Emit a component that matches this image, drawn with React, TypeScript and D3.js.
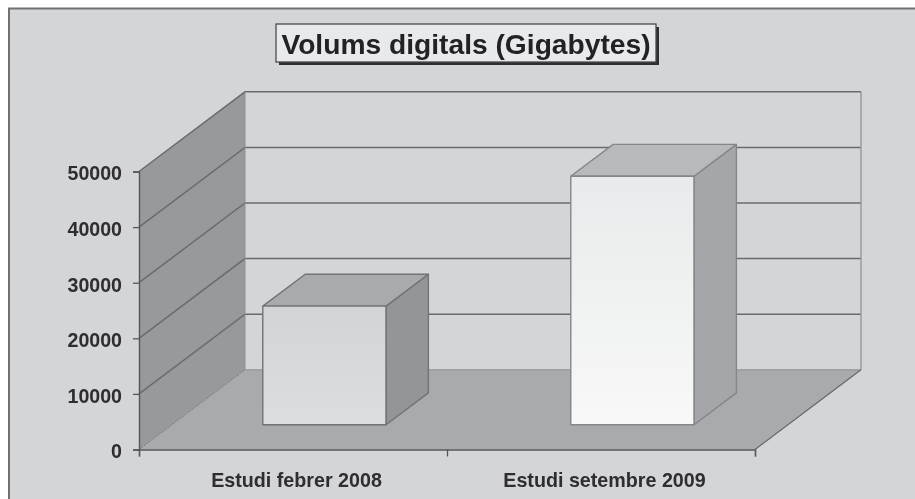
import React, { useEffect, useRef } from 'react';
import * as d3 from 'd3';

const titleText = 'Volums digitals (Gigabytes)';
const categories = ['Estudi febrer 2008', 'Estudi setembre 2009'];
const values = [21350, 44700];
const yTicks = [0, 10000, 20000, 30000, 40000, 50000];

// per-bar shades: front gradient (top, bottom), side, top
const barFront = [['#d3d4d6', '#dcdddf'], ['#e9eaeb', '#f7f8f7']];
const barSide = ['#949598', '#a4a6a9'];
const barTop = ['#a9aaac', '#b8b9bb'];
const barEdge = ['#727376', '#85868a'];

const width = 915;
const height = 499;
const font = '"Liberation Sans", Arial, sans-serif';

export default function App() {
  const ref = useRef<SVGSVGElement | null>(null);

  useEffect(() => {
    const svg = d3.select(ref.current);
    svg.selectAll('*').remove();

    const left = 139, right = 755;
    const y = d3.scaleLinear().domain([0, 50000]).range([449.5, 171.5]);
    const x = d3.scaleBand<string>().domain(categories).range([left, right])
      .paddingInner(0.6).paddingOuter(0.3).align(0.492);
    // depth axis: 0 at the front of the floor, 1 at the back wall
    const depthX = d3.scaleLinear().domain([0, 1]).range([0, 106]);
    const depthY = d3.scaleLinear().domain([0, 1]).range([0, -79.7]);
    const pt = (px: number, v: number, d: number): [number, number] => [px + depthX(d), y(v) + depthY(d)];
    const poly = d3.line();

    const defs = svg.append('defs');
    barFront.forEach((c, i) => {
      const g = defs.append('linearGradient').attr('id', `front${i}`).attr('x1', 0).attr('x2', 0).attr('y1', 0).attr('y2', 1);
      g.append('stop').attr('offset', 0).attr('stop-color', c[0]);
      g.append('stop').attr('offset', 1).attr('stop-color', c[1]);
    });
    // the source is a soft scan
    defs.append('filter').attr('id', 'soft').attr('x', 0).attr('y', 0).attr('width', 1).attr('height', 1)
      .append('feGaussianBlur').attr('stdDeviation', 0.45);

    const root = svg.append('g').attr('filter', 'url(#soft)');
    root.append('rect').attr('width', width).attr('height', height).attr('fill', '#fff');
    root.append('rect').attr('x', 9).attr('y', 8.5).attr('width', width).attr('height', height)
      .attr('fill', '#d4d5d7').attr('stroke', '#707174').attr('stroke-width', 2);

    // back wall
    root.append('path').attr('d', poly([pt(left, 50000, 1), pt(right, 50000, 1), pt(right, 0, 1), pt(left, 0, 1)]) + 'Z')
      .attr('fill', '#d4d5d7');
    // side wall
    root.append('path').attr('d', poly([pt(left, 0, 0), pt(left, 50000, 0), pt(left, 50000, 1), pt(left, 0, 1)]) + 'Z')
      .attr('fill', '#98999c');
    // floor
    root.append('path').attr('d', poly([pt(left, 0, 0), pt(right, 0, 0), pt(right, 0, 1), pt(left, 0, 1)]) + 'Z')
      .attr('fill', '#a9aaad');

    // gridlines
    yTicks.forEach(v => {
      if (v > 0) {
        root.append('path').attr('d', poly([pt(left, v, 0), pt(left, v, 1), pt(right, v, 1)]))
          .attr('fill', 'none').attr('stroke', '#6a6b6e').attr('stroke-width', 1.5);
      }
    });
    root.append('path').attr('d', poly([pt(left, 50000, 1), pt(left, 0, 1)])).attr('stroke', '#8e8f92').attr('stroke-width', 1);
    root.append('path').attr('d', poly([pt(right, 50000, 1), pt(right, 0, 1)])).attr('stroke', '#96979a').attr('stroke-width', 1.4);
    root.append('path').attr('d', poly([pt(left, 0, 1), pt(right, 0, 1)])).attr('stroke', '#949598').attr('stroke-width', 1.2);
    root.append('path').attr('d', poly([pt(left, 0, 0), pt(left, 0, 1)])).attr('stroke', '#77787b').attr('stroke-width', 1).attr('stroke-dasharray', '2 1');
    root.append('path').attr('d', poly([pt(right, 0, 0), pt(right, 0, 1)])).attr('stroke', '#66676a').attr('stroke-width', 1.2);

    // bars
    const d0 = 0.31, d1 = 0.71;
    categories.forEach((c, i) => {
      const x0 = x(c) as number;
      const x1 = x0 + x.bandwidth();
      const v = values[i];
      const g = root.append('g').attr('stroke', barEdge[i]).attr('stroke-width', 1.4).attr('stroke-linejoin', 'round');
      g.append('path').attr('d', poly([pt(x1, 0, d0), pt(x1, 0, d1), pt(x1, v, d1), pt(x1, v, d0)]) + 'Z').attr('fill', barSide[i]);
      g.append('path').attr('d', poly([pt(x0, v, d0), pt(x1, v, d0), pt(x1, v, d1), pt(x0, v, d1)]) + 'Z').attr('fill', barTop[i]);
      g.append('path').attr('d', poly([pt(x0, 0, d0), pt(x1, 0, d0), pt(x1, v, d0), pt(x0, v, d0)]) + 'Z').attr('fill', `url(#front${i})`);
    });

    // axes
    const yAxis = d3.axisLeft(y).tickValues(yTicks).tickSize(6).tickPadding(11).tickFormat(d3.format('d') as any);
    const ay = root.append('g').attr('transform', `translate(${left},0)`).call(yAxis);
    const xTickScale = d3.scaleLinear().domain([0, categories.length]).range([left, right]);
    const xAxis = d3.axisBottom(xTickScale).ticks(categories.length).tickSize(7).tickFormat(() => '');
    const ax = root.append('g').attr('transform', `translate(0,${y(0)})`).call(xAxis);
    [ay, ax].forEach(a => {
      a.selectAll('path.domain').attr('stroke', '#55565a').attr('stroke-width', 1.4);
      a.selectAll('line').attr('stroke', '#55565a').attr('stroke-width', 1.3);
    });
    ay.selectAll('text').attr('fill', '#2d2d30').attr('font-family', font).attr('font-size', 19.6)
      .attr('font-weight', 700).attr('dy', '0.43em');

    categories.forEach(c => {
      root.append('text').attr('x', (x(c) as number) + x.bandwidth() / 2 + 5).attr('y', 486.5)
        .attr('text-anchor', 'middle').attr('fill', '#2d2d30').attr('font-family', font)
        .attr('font-size', 19.7).attr('font-weight', 700).text(c);
    });

    // title box
    root.append('rect').attr('x', 279).attr('y', 27).attr('width', 380).attr('height', 38).attr('fill', '#2e2e30');
    root.append('rect').attr('x', 276).attr('y', 24).attr('width', 380).attr('height', 38)
      .attr('fill', '#e8e9eb').attr('stroke', '#4a4b4e').attr('stroke-width', 1.3);
    root.append('text').attr('x', 466).attr('y', 54).attr('text-anchor', 'middle').attr('fill', '#232325')
      .attr('font-family', font).attr('font-size', 28.2).attr('font-weight', 700).text(titleText);
  }, []);

  return <svg ref={ref} width={width} height={height} style={{ position: 'absolute', left: 0, top: 0, background: '#fff' }} />;
}
